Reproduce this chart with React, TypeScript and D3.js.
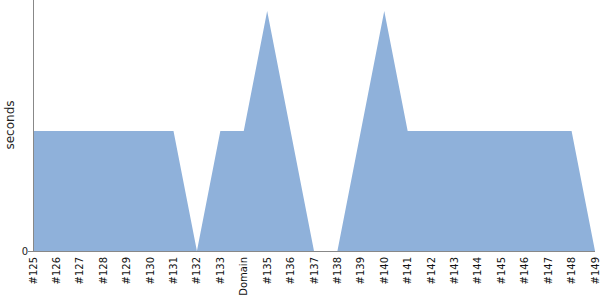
import React from "react";
import * as d3 from "d3";

const categories = ["#125","#126","#127","#128","#129","#130","#131","#132","#133","Domain","#135","#136","#137","#138","#139","#140","#141","#142","#143","#144","#145","#146","#147","#148","#149"];
const values = [1,1,1,1,1,1,1,0,1,1,2,1,0,0,1,2,1,1,1,1,1,1,1,1,0];
const yTicks = [0];
const yLabel = "seconds";

export default function App() {
  const W = 600, H = 300;
  const left = 33, right = 595, top = 0, bottom = 251;
  const x = d3.scalePoint<string>().domain(categories).range([left, right]);
  const y = d3.scaleLinear().domain([0, 2]).range([bottom, 11]);
  const area = d3.area<number>()
    .x((_, i) => x(categories[i]) as number)
    .y0(y(0))
    .y1((d) => y(d));
  const font = "DejaVu Sans, sans-serif";
  return (
    <div style={{ position: "absolute", left: 0, top: 0 }}>
      <svg width={W} height={H} style={{ display: "block" }}>
        <path d={area(values) || ""} fill="#8fb1da" />
        <line x1={left + 0.5} x2={left + 0.5} y1={top} y2={bottom} stroke="#888" />
        <line x1={left} x2={right} y1={bottom + 0.5} y2={bottom + 0.5} stroke="#888" />
        {yTicks.map((t) => (
          <g key={t}>
            <line x1={left - 5} x2={left} y1={y(t) + 0.5} y2={y(t) + 0.5} stroke="#888" />
            <text x={left - 5} y={y(t)} dy="0.35em" textAnchor="end" fontSize={10} fontFamily={font} fill="#222">{t}</text>
          </g>
        ))}
        {categories.map((c) => (
          <text key={c} transform={`translate(${(x(c) as number) + 3.5},${bottom + 6}) rotate(-90)`} textAnchor="end" fontSize={10} fontFamily={font} fill="#111">{c}</text>
        ))}
        <text transform={`translate(14,${125}) rotate(-90)`} textAnchor="middle" fontSize={12} fontFamily={font} fill="#222">{yLabel}</text>
      </svg>
    </div>
  );
}
